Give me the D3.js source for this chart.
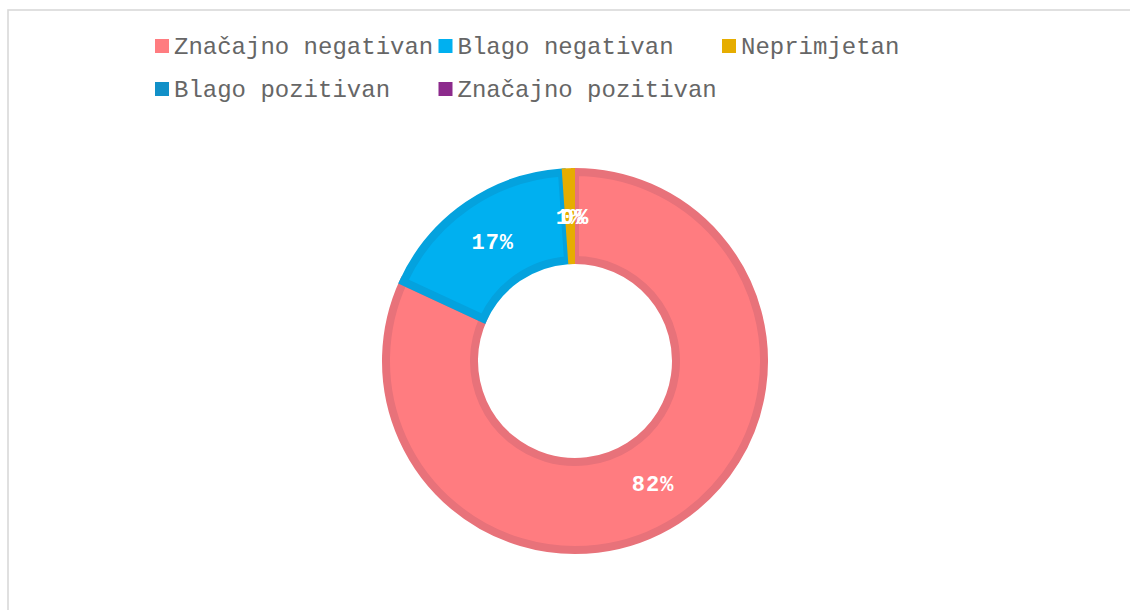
<!DOCTYPE html>
<html>
<head>
<meta charset="utf-8">
<script src="https://cdn.jsdelivr.net/npm/d3@7"></script>
<style>
  html, body { margin: 0; padding: 0; background: #fff; }
  svg { display: block; }
</style>
</head>
<body>
<svg id="chart"></svg>
<script>
// chart data
const categories = ['Značajno negativan', 'Blago negativan', 'Neprimjetan', 'Blago pozitivan', 'Značajno pozitivan'];
const values = [81.9, 17.0, 1.1, 0, 0];
const fills = ['#ff7c80', '#00b0f0', '#e6ad00', '#1190c8', '#8c2a8c'];
const strokes = ['#e8727a', '#04a2de', 'none', '#1190c8', '#8c2a8c'];

const width = 1130;
const height = 610;
const cx = 575, cy = 361;
const outerR = 189, innerR = 101, borderW = 8;

const svg = d3.select('#chart').attr('width', width).attr('height', height);

// chart area border
svg.append('rect')
  .attr('x', 8).attr('y', 10)
  .attr('width', 1300).attr('height', 800)
  .attr('fill', 'none')
  .attr('stroke', '#d9d9d9')
  .attr('stroke-width', 1.6);

// legend
const legendX0 = 155, legendColW = 283.5, legendY0 = 46, legendRowH = 43;
const legend = svg.append('g');
categories.forEach((name, i) => {
  const col = i % 3, row = Math.floor(i / 3);
  const x = legendX0 + col * legendColW;
  const y = legendY0 + row * legendRowH;
  legend.append('rect')
    .attr('x', x).attr('y', y - 7)
    .attr('width', 14).attr('height', 14)
    .attr('fill', fills[i]);
  legend.append('text')
    .attr('x', x + 19).attr('y', y)
    .attr('dy', '0.35em')
    .style('font-family', '"Liberation Mono", "Courier New", monospace')
    .style('font-size', '24px')
    .attr('fill', '#666')
    .text(name);
});

// donut
const pie = d3.pie().sort(null).value(d => d);
const arc = d3.arc().innerRadius(innerR).outerRadius(outerR);
// slices without a border are drawn out to the bordered slices' full extent
const arcNoBorder = d3.arc().innerRadius(innerR - borderW / 2).outerRadius(outerR + borderW / 2);
const arcs = pie(values);

const g = svg.append('g').attr('transform', `translate(${cx},${cy})`);

g.selectAll('path')
  .data(arcs)
  .join('path')
  .attr('d', (d, i) => strokes[i] === 'none' ? arcNoBorder(d) : arc(d))
  .attr('fill', (d, i) => fills[i])
  .attr('stroke', (d, i) => strokes[i])
  .attr('stroke-width', d => d.endAngle - d.startAngle > 0 ? borderW : 0)
  .attr('stroke-linejoin', 'miter');

// data labels
g.selectAll('text.lbl')
  .data(arcs)
  .join('text')
  .attr('class', 'lbl')
  .attr('transform', d => `translate(${arc.centroid(d)})`)
  .attr('text-anchor', 'middle')
  .attr('dy', '0.35em')
  .style('font-family', '"Liberation Mono", "Courier New", monospace')
  .style('font-size', '22px')
  .style('font-weight', 'bold')
  .style('letter-spacing', '1px')
  .attr('fill', '#fff')
  .text(d => Math.round(d.data) + '%');
</script>
</body>
</html>
